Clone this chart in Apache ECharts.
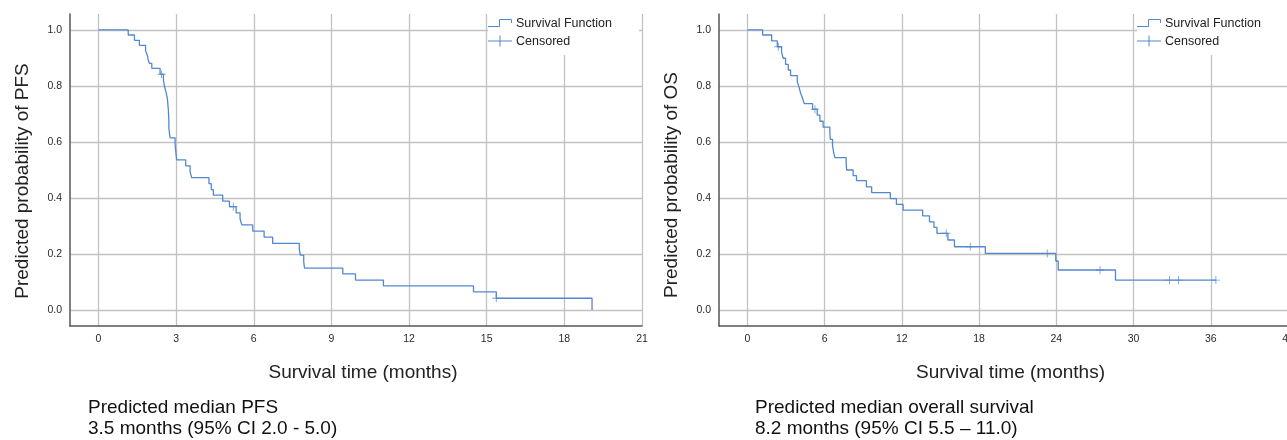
<!DOCTYPE html>
<html><head><meta charset="utf-8">
<script src="https://cdn.jsdelivr.net/npm/echarts@6/dist/echarts.min.js"></script>
<style>html,body{margin:0;padding:0;background:#fff;overflow:hidden}#c{width:1287px;height:440px}</style>
</head><body><div id="c"></div>
<script>
// ---------- data ----------
const pfsTimes = [0, 1.15, 1.39, 1.58, 1.82, 1.89, 1.93, 1.97, 2.06, 2.38, 2.51, 2.55, 2.61, 2.66, 2.68, 2.70, 2.71, 2.72, 2.72, 2.74, 2.77, 2.96, 2.98, 3.00, 3.02, 3.37, 3.54, 3.60, 4.27, 4.36, 4.44, 4.80, 5.06, 5.32, 5.47, 5.54, 5.96, 6.40, 6.73, 7.76, 7.80, 7.93, 7.96, 9.44, 9.93, 11.01, 14.49, 15.37, 19.07];
const pfsSurv  = [1.0, 0.982, 0.963, 0.945, 0.927, 0.909, 0.890, 0.881, 0.863, 0.842, 0.821, 0.799, 0.778, 0.757, 0.736, 0.715, 0.694, 0.672, 0.651, 0.633, 0.615, 0.594, 0.572, 0.555, 0.536, 0.515, 0.494, 0.473, 0.451, 0.430, 0.410, 0.389, 0.369, 0.347, 0.326, 0.304, 0.282, 0.260, 0.238, 0.217, 0.196, 0.172, 0.150, 0.129, 0.107, 0.086, 0.065, 0.042, 0.0];
const pfsCensorTimes = [2.44, 5.21, 15.37];
const pfsCensorSurv  = [0.842, 0.369, 0.042];

const osTimes = [0, 1.19, 1.89, 2.33, 2.66, 2.79, 2.97, 3.18, 3.36, 3.88, 4.03, 4.14, 4.29, 4.42, 5.07, 5.43, 5.64, 5.89, 6.41, 6.45, 6.62, 6.70, 6.80, 7.68, 7.72, 8.22, 8.48, 9.25, 9.66, 11.11, 11.58, 12.10, 13.62, 14.15, 14.50, 14.73, 15.58, 16.09, 18.49, 23.96, 24.15, 28.60, 36.40];
const osSurv  = [1.0, 0.982, 0.961, 0.940, 0.920, 0.899, 0.877, 0.857, 0.837, 0.815, 0.794, 0.774, 0.756, 0.737, 0.717, 0.696, 0.674, 0.653, 0.631, 0.609, 0.587, 0.565, 0.544, 0.522, 0.500, 0.480, 0.462, 0.440, 0.419, 0.398, 0.377, 0.357, 0.336, 0.315, 0.295, 0.274, 0.250, 0.226, 0.202, 0.175, 0.143, 0.107, 0.107];
const osCensorTimes = [2.41, 5.25, 15.45, 17.32, 23.30, 27.40, 32.80, 33.50, 36.40];
const osCensorSurv  = [0.940, 0.717, 0.274, 0.226, 0.202, 0.143, 0.107, 0.107, 0.107];

const pfsXTicks = [0, 3, 6, 9, 12, 15, 18, 21];
const osXTicks  = [0, 6, 12, 18, 24, 30, 36, 42];
const yTicks    = [0, 0.2, 0.4, 0.6, 0.8, 1.0];

const xTitle = 'Survival time (months)';
const pfsYTitle = 'Predicted probability of PFS';
const osYTitle = 'Predicted probability of OS';
const pfsNote = ['Predicted median PFS', '3.5 months (95% CI 2.0 - 5.0)'];
const osNote  = ['Predicted median overall survival', '8.2 months (95% CI 5.5 \u2013 11.0)'];
const legendNames = ['Survival Function', 'Censored'];

// ---------- styling ----------
const FONT = '"Liberation Sans", Arial, Helvetica, sans-serif';
const BLUE = '#5288cf';
const GRIDC = '#c2c2c2';
const AXISC = '#555555';
const PLUS = 'path://M4.45,0H5.55V4.45H10V5.55H5.55V10H4.45V5.55H0V4.45H4.45Z';

const zip = (a, b) => a.map((v, i) => [v, b[i]]);

function mkX(idx, min, max, ticks) {
  return {
    type: 'value', gridIndex: idx, min: min, max: max,
    axisLine: { show: true, onZero: false, lineStyle: { color: AXISC, width: 1.5 } },
    axisTick: { show: false, customValues: ticks },
    axisLabel: { customValues: ticks, fontSize: 10.5, color: '#2a2a2a', margin: 8, fontFamily: FONT,
                 hideOverlap: false, showMinLabel: true, showMaxLabel: true },
    splitLine: { show: true, lineStyle: { color: GRIDC, width: 1.3 } },
    name: xTitle, nameLocation: 'middle', nameGap: 37,
    nameTextStyle: { fontSize: 19, color: '#222', fontFamily: FONT, padding: [0, 0, 0, 14] }
  };
}
function mkY(idx, title, shift) {
  return {
    type: 'value', gridIndex: idx, min: -0.057, max: 1.057,
    axisLine: { show: true, onZero: false, lineStyle: { color: AXISC, width: 1.5 } },
    axisTick: { show: false, customValues: yTicks },
    axisLabel: { customValues: yTicks, fontSize: 10.5, color: '#2a2a2a', margin: 8, fontFamily: FONT,
                 formatter: v => v.toFixed(1) },
    splitLine: { show: true, lineStyle: { color: GRIDC, width: 1.3 } },
    name: title, nameLocation: 'middle', nameGap: 38,
    nameTextStyle: { fontSize: 19, color: '#222', fontFamily: FONT, padding: [0, shift, 0, 0] }
  };
}
function lineSeries(idx, data) {
  return { type: 'line', name: legendNames[0], xAxisIndex: idx, yAxisIndex: idx, data: data,
    step: 'end', showSymbol: false, symbol: 'none', lineStyle: { color: BLUE, width: 1.3 },
    animation: false, z: 3 };
}
function censorSeries(idx, data) {
  return { type: 'scatter', name: legendNames[1], xAxisIndex: idx, yAxisIndex: idx, data: data,
    symbol: PLUS, symbolSize: 8, itemStyle: { color: BLUE }, animation: false, z: 4 };
}
function legendGraphic(x0, w) {
  const t = { fontSize: 12.5, fill: '#222', fontFamily: FONT, verticalAlign: 'middle' };
  return [
    { type: 'rect', shape: { x: x0, y: 14, width: w, height: 41 }, style: { fill: '#fff' }, z: 10 },
    { type: 'polyline', shape: { points: [[x0, 26.5], [x0 + 11.5, 26.5], [x0 + 11.5, 19.5], [x0 + 23.5, 19.5], [x0 + 23.5, 23]] },
      style: { stroke: BLUE, lineWidth: 1, fill: null }, z: 11 },
    { type: 'text', x: x0 + 28, y: 23.5, style: Object.assign({ text: legendNames[0] }, t), z: 11 },
    { type: 'line', shape: { x1: x0, y1: 41, x2: x0 + 24, y2: 41 }, style: { stroke: BLUE, lineWidth: 1 }, z: 11 },
    { type: 'line', shape: { x1: x0 + 12, y1: 35.5, x2: x0 + 12, y2: 46.5 }, style: { stroke: BLUE, lineWidth: 1 }, z: 11 },
    { type: 'text', x: x0 + 28, y: 41.5, style: Object.assign({ text: legendNames[1] }, t), z: 11 }
  ];
}
function note(left, lines) {
  return { left: left, top: 397, padding: 0, text: lines.join('\n'),
    textStyle: { fontSize: 19, fontWeight: 'normal', color: '#111', fontFamily: FONT, lineHeight: 21.5 } };
}

const chart = echarts.init(document.getElementById('c'), null, { renderer: 'canvas' });
chart.setOption({
  backgroundColor: '#fff',
  animation: false,
  textStyle: { fontFamily: FONT },
  title: [note(88, pfsNote), note(755, osNote)],
  grid: [
    { left: 70, top: 14, width: 572, height: 312, containLabel: false, outerBoundsMode: 'none' },
    { left: 719, top: 14, width: 569, height: 312, containLabel: false, outerBoundsMode: 'none' }
  ],
  xAxis: [mkX(0, -1.1, 21, pfsXTicks), mkX(1, -2.2, 42, osXTicks)],
  yAxis: [mkY(0, pfsYTitle, 22), mkY(1, osYTitle, 30)],
  series: [
    lineSeries(0, zip(pfsTimes, pfsSurv)),
    censorSeries(0, zip(pfsCensorTimes, pfsCensorSurv)),
    lineSeries(1, zip(osTimes, osSurv)),
    censorSeries(1, zip(osCensorTimes, osCensorSurv))
  ],
  graphic: legendGraphic(488, 151).concat(legendGraphic(1137, 150))
});
</script>
</body></html>
